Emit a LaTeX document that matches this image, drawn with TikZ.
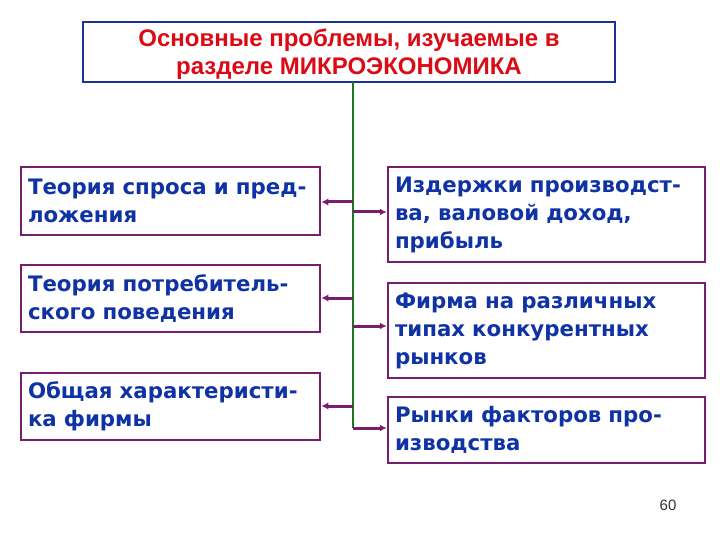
\documentclass[tikz,border=0pt]{standalone}
\usepackage{fontspec}
\setmainfont{DejaVu Sans}
\newfontfamily\titlefont{Liberation Sans}
\usetikzlibrary{arrows.meta}
\definecolor{boxpurple}{RGB}{120,30,110}
\definecolor{titleblue}{RGB}{30,50,150}
\definecolor{txtblue}{RGB}{15,50,165}
\definecolor{titlered}{RGB}{220,10,20}
\definecolor{linegreen}{RGB}{30,120,30}
\tikzset{
  topicbox/.style={draw=boxpurple, line width=2.5pt, fill=white, align=left,
    inner sep=0pt, font=\fontsize{21.3}{28}\selectfont\bfseries, text=txtblue},
  leftbox/.style={topicbox, minimum width=299pt, text width=285pt},
  rightbox/.style={topicbox, minimum width=317pt, text width=303pt},
  link/.style={draw=boxpurple, line width=3pt, -{Latex[length=7pt,width=7pt]}},
}
\begin{document}
\begin{tikzpicture}[x=1pt,y=-1pt]
\useasboundingbox (0,0) rectangle (720,540);
\fill[white] (0,0) rectangle (720,540);
\node[draw=titleblue, line width=2.5pt, minimum width=532pt, minimum height=60pt] (title) at (349,52) {};
\node[align=center, text=titlered, font=\titlefont\fontsize{24}{28.5}\selectfont\bfseries]
  (titletext) at (349,54) {Основные проблемы, изучаемые в\\разделе МИКРОЭКОНОМИКА};
\node[leftbox, minimum height=68pt] (l1) at (170.5,201) {Теория спроса и пред-\\ложения};
\node[leftbox, minimum height=67pt] (l2) at (170.5,298.5) {Теория потребитель-\\ского поведения};
\node[leftbox, minimum height=67pt] (l3) at (170.5,406.5) {Общая характеристи-\\ка фирмы};
\node[rightbox, minimum height=95pt] (r1) at (546.5,214.5) {Издержки производст-\\ва, валовой доход,\\прибыль};
\node[rightbox, minimum height=95pt] (r2) at (546.5,330.5) {Фирма на различных\\типах конкурентных\\рынков};
\node[rightbox, minimum height=66pt] (r3) at (546.5,430) {Рынки факторов про-\\изводства};
\coordinate (top) at (353,82);
\coordinate (bot) at (353,428);
\coordinate (a1) at (353,202);
\coordinate (a2) at (353,298);
\coordinate (a3) at (353,406);
\coordinate (b1) at (353,212);
\coordinate (b2) at (353,326);
\draw[draw=linegreen, line width=2.5pt] (top) -- (bot);
\draw[link] (a1) -- (l1.east |- a1);
\draw[link] (a2) -- (l2.east |- a2);
\draw[link] (a3) -- (l3.east |- a3);
\draw[link] (b1) -- (r1.west |- b1);
\draw[link] (b2) -- (r2.west |- b2);
\draw[link] (bot) -- (r3.west |- bot);
\node[font=\titlefont\fontsize{15}{17}\selectfont, text=black!80] (page) at (668,505) {60};
\end{tikzpicture}
\end{document}
